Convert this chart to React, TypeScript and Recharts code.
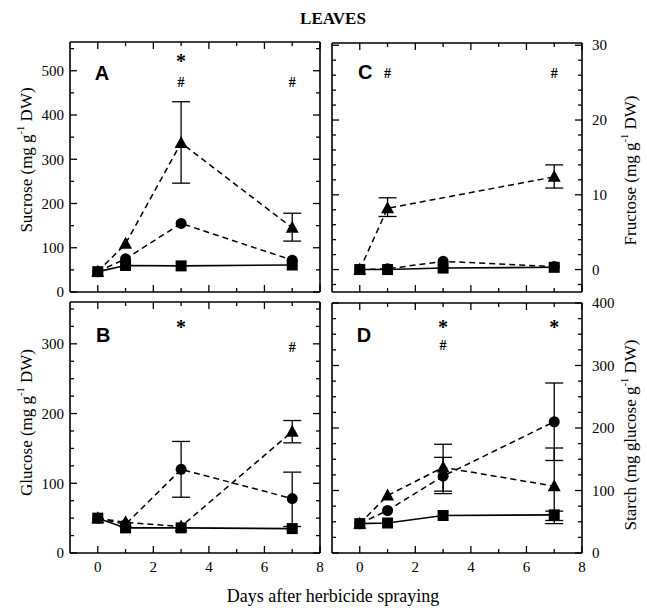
import React from "react";
import { LineChart, Line, XAxis, YAxis, ErrorBar, ReferenceDot } from "recharts";

const W = 647;
const H = 612;
const SERIF = "'Liberation Serif', 'Times New Roman', serif";
const SANS = "'Liberation Sans', Arial, sans-serif";

// days after herbicide spraying
const days = [0, 1, 3, 7];
const dayTicks = [0, 1, 2, 3, 4, 5, 6, 7, 8];

// A - sucrose (mg g-1 DW)
const sucroseSquare = [46, 60, 59, 61];
const sucroseCircle = [46, 75, 155, 72];
const sucroseTriangle = [46, 109, 337, 145];
const sucroseTriangleErr = [null, null, [91, 93], [30, 33]];

// B - glucose (mg g-1 DW)
const glucoseSquare = [50, 36, 36, 35];
const glucoseCircle = [50, 41, 120, 78];
const glucoseCircleErr = [null, null, [40, 40], [40, 38]];
const glucoseTriangle = [50, 44, 38, 174];
const glucoseTriangleErr = [null, null, null, [16, 16]];

// C - fructose (mg g-1 DW), no triangle at day 3
const fructoseSquare = [0, 0, 0.2, 0.3];
const fructoseCircle = [0, 0.1, 1.1, 0.4];
const fructoseTriangle = [0, 8.2, null, 12.4];
const fructoseTriangleErr = [null, [1.1, 1.4], null, [1.5, 1.6]];

// D - starch (mg glucose g-1 DW)
const starchSquare = [47, 48, 60, 61];
const starchSquareErr = [null, null, null, [9, 6]];
const starchCircle = [47, 68, 123, 210];
const starchCircleErr = [null, null, [28, 30], [62, 62]];
const starchTriangle = [47, 92, 137, 107];
const starchTriangleErr = [null, null, [38, 37], [60, 61]];

// significance marks: day, height in axis units, symbol
const notesA = [
  { day: 3, level: 522, text: "*" },
  { day: 3, level: 475, text: "#" },
  { day: 7, level: 475, text: "#" },
];
const notesB = [
  { day: 3, level: 325, text: "*" },
  { day: 7, level: 296, text: "#" },
];
const notesC = [
  { day: 1, level: 26.3, text: "#" },
  { day: 7, level: 26.3, text: "#" },
];
const notesD = [
  { day: 3, level: 362, text: "*" },
  { day: 3, level: 333, text: "#" },
  { day: 7, level: 362, text: "*" },
];

const range = (from: number, to: number, step: number) => {
  const out: number[] = [];
  for (let v = from; v <= to + 1e-9; v += step) out.push(Math.round(v * 100) / 100);
  return out;
};

type Err = number[] | null;
const makeRows = (sq: (number | null)[], ci: (number | null)[], tr: (number | null)[], sqErr: Err[] = [], ciErr: Err[] = [], trErr: Err[] = []) =>
  days.map((day, i) => ({
    day,
    sq: sq[i],
    ci: ci[i],
    tr: tr[i],
    sqErr: sqErr[i] ?? undefined,
    ciErr: ciErr[i] ?? undefined,
    trErr: trErr[i] ?? undefined,
  }));

const rowsA = makeRows(sucroseSquare, sucroseCircle, sucroseTriangle, [], [], sucroseTriangleErr);
const rowsB = makeRows(glucoseSquare, glucoseCircle, glucoseTriangle, [], glucoseCircleErr, glucoseTriangleErr);
const rowsC = makeRows(fructoseSquare, fructoseCircle, fructoseTriangle, [], [], fructoseTriangleErr);
const rowsD = makeRows(starchSquare, starchCircle, starchTriangle, starchSquareErr, starchCircleErr, starchTriangleErr);

const AX = 20; // size reserved for every axis
const GAP: Record<string, number> = { left: 6, right: 10, top: 4, bottom: 8 };

// inward tick marks, label only on major ticks
function InTick(props: any) {
  const { x = 0, y = 0, payload, side, major, labels } = props;
  const v = payload?.value ?? 0;
  const isMajor = Math.abs(v / major - Math.round(v / major)) < 1e-6;
  const len = isMajor ? 7 : 4;
  const txt = labels && isMajor ? String(v) : null;
  const common = { fontFamily: SERIF, fontSize: 15, fill: "#000" };
  if (side === "left") {
    const ax = x + GAP.left;
    return (
      <g>
        <line x1={ax} y1={y} x2={ax + len} y2={y} stroke="#000" strokeWidth={1.3} />
        {txt && <text x={x} y={y} dy="0.35em" textAnchor="end" {...common}>{txt}</text>}
      </g>
    );
  }
  if (side === "right") {
    const ax = x - GAP.right;
    return (
      <g>
        <line x1={ax} y1={y} x2={ax - len} y2={y} stroke="#000" strokeWidth={1.3} />
        {txt && <text x={x} y={y} dy="0.35em" textAnchor="start" {...common}>{txt}</text>}
      </g>
    );
  }
  if (side === "bottom") {
    const ay = y - GAP.bottom;
    return (
      <g>
        <line x1={x} y1={ay} x2={x} y2={ay - len} stroke="#000" strokeWidth={1.3} />
        {txt && <text x={x} y={y} dy="0.71em" textAnchor="middle" {...common}>{txt}</text>}
      </g>
    );
  }
  const ay = y + GAP.top;
  return <line x1={x} y1={ay} x2={x} y2={ay + len} stroke="#000" strokeWidth={1.3} />;
}

function YTitle(props: any) {
  const { viewBox, side, pre, shift } = props;
  const vb = viewBox ?? { x: 0, y: 0, width: 0, height: 0 };
  const cx = side === "left" ? vb.x + vb.width - 44 : vb.x + 48;
  const cy = vb.y + vb.height / 2 + shift;
  return (
    <text x={cx} y={cy} transform={`rotate(-90 ${cx} ${cy})`} textAnchor="middle" dominantBaseline="central" fontFamily={SERIF} fontSize={17} fill="#000">
      {pre}
      <tspan dy={-6} fontSize={10.5}>-1</tspan>
      <tspan dy={6}> DW)</tspan>
    </text>
  );
}

const square = (p: any) =>
  p.cy == null || p.value == null ? <g key={p.key} /> : <rect key={p.key} x={p.cx - 5.5} y={p.cy - 5.5} width={11} height={11} fill="#000" />;
const circle = (p: any) =>
  p.cy == null || p.value == null ? <g key={p.key} /> : <circle key={p.key} cx={p.cx} cy={p.cy} r={5.5} fill="#000" />;
const triangle = (p: any) =>
  p.cy == null || p.value == null ? (
    <g key={p.key} />
  ) : (
    <polygon key={p.key} points={`${p.cx},${p.cy - 7} ${p.cx - 6.5},${p.cy + 5} ${p.cx + 6.5},${p.cy + 5}`} fill="#000" />
  );

type Note = { day: number; level: number; text: string };
type PanelProps = {
  rows: any[];
  box: { left: number; top: number; right: number; bottom: number };
  yDomain: [number, number];
  yTicks: number[];
  yMajor: number;
  labelSide: "left" | "right";
  showX: boolean;
  pre: string;
  shift: number;
  letter: string;
  letterAt: [number, number];
  notes: Note[];
};

function Panel(p: PanelProps) {
  const margin = {
    left: p.box.left - AX,
    right: W - p.box.right - AX,
    top: p.box.top - AX,
    bottom: H - p.box.bottom - AX,
  };
  const axisLine = { stroke: "#000", strokeWidth: 1.6 };
  const errLine = { stroke: "#000", strokeWidth: 1.3 };
  const title = <YTitle side={p.labelSide} pre={p.pre} shift={p.shift} />;
  return (
    <div style={{ position: "absolute", left: 0, top: 0 }}>
      <LineChart width={W} height={H} data={p.rows} margin={margin}>
        <XAxis xAxisId="b" type="number" dataKey="day" domain={[-1, 8]} ticks={dayTicks} interval={0} orientation="bottom" height={AX}
          tickSize={0} tickMargin={GAP.bottom} tickLine={false} axisLine={axisLine} tick={<InTick side="bottom" major={2} labels={p.showX} />} />
        <XAxis xAxisId="t" type="number" dataKey="day" domain={[-1, 8]} ticks={dayTicks} interval={0} orientation="top" height={AX}
          tickSize={0} tickMargin={GAP.top} tickLine={false} axisLine={axisLine} tick={<InTick side="top" major={2} labels={false} />} />
        <YAxis yAxisId="l" type="number" domain={p.yDomain} ticks={p.yTicks} interval={0} orientation="left" width={AX}
          allowDataOverflow tickSize={0} tickMargin={GAP.left} tickLine={false} axisLine={axisLine}
          tick={<InTick side="left" major={p.yMajor} labels={p.labelSide === "left"} />}
          label={p.labelSide === "left" ? title : undefined} />
        <YAxis yAxisId="r" type="number" domain={p.yDomain} ticks={p.yTicks} interval={0} orientation="right" width={AX}
          allowDataOverflow tickSize={0} tickMargin={GAP.right} tickLine={false} axisLine={axisLine}
          tick={<InTick side="right" major={p.yMajor} labels={p.labelSide === "right"} />}
          label={p.labelSide === "right" ? title : undefined} />
        <Line xAxisId="b" yAxisId="l" dataKey="tr" stroke="#000" strokeWidth={1.5} strokeDasharray="6 4" dot={triangle}
          activeDot={false} connectNulls isAnimationActive={false}>
          <ErrorBar dataKey="trErr" direction="y" width={9} {...errLine} />
        </Line>
        <Line xAxisId="b" yAxisId="l" dataKey="ci" stroke="#000" strokeWidth={1.5} strokeDasharray="6 4" dot={circle}
          activeDot={false} connectNulls isAnimationActive={false}>
          <ErrorBar dataKey="ciErr" direction="y" width={9} {...errLine} />
        </Line>
        <Line xAxisId="b" yAxisId="l" dataKey="sq" stroke="#000" strokeWidth={1.6} dot={square}
          activeDot={false} connectNulls isAnimationActive={false}>
          <ErrorBar dataKey="sqErr" direction="y" width={9} {...errLine} />
        </Line>
        <ReferenceDot xAxisId="b" yAxisId="l" x={p.letterAt[0]} y={p.letterAt[1]} r={0} fill="none" stroke="none"
          label={{ value: p.letter, position: "center", fontFamily: SANS, fontWeight: 700, fontSize: 20, fill: "#000" }} />
        {p.notes.map((n, i) => (
          <ReferenceDot key={i} xAxisId="b" yAxisId="l" x={n.day} y={n.level} r={0} fill="none" stroke="none"
            label={{ value: n.text, position: "center", fontFamily: SERIF, fontWeight: 700, fontSize: n.text === "*" ? 20 : 14, fill: "#000" }} />
        ))}
      </LineChart>
    </div>
  );
}

export default function App() {
  return (
    <div style={{ position: "absolute", left: 0, top: 0, width: W, height: H, background: "#fff" }}>
      <div style={{ position: "absolute", left: 0, width: 666, top: 9, textAlign: "center", fontFamily: SERIF, fontWeight: 700, fontSize: 17 }}>
        LEAVES
      </div>
      <Panel rows={rowsA} box={{ left: 70, top: 42, right: 320, bottom: 292 }} yDomain={[0, 565]} yTicks={range(0, 550, 50)} yMajor={100}
        labelSide="left" showX={false} pre="Sucrose (mg g" shift={-7} letter="A" letterAt={[0.15, 495]} notes={notesA} />
      <Panel rows={rowsB} box={{ left: 70, top: 302, right: 320, bottom: 553 }} yDomain={[0, 360]} yTicks={range(0, 350, 25)} yMajor={100}
        labelSide="left" showX pre="Glucose (mg g" shift={-5} letter="B" letterAt={[0.2, 313]} notes={notesB} />
      <Panel rows={rowsC} box={{ left: 332, top: 43, right: 582, bottom: 292 }} yDomain={[-3, 30.3]} yTicks={range(-2, 30, 2)} yMajor={10}
        labelSide="right" showX={false} pre="Fructose (mg g" shift={3} letter="C" letterAt={[0.2, 26.4]} notes={notesC} />
      <Panel rows={rowsD} box={{ left: 332, top: 303, right: 582, bottom: 553 }} yDomain={[0, 400]} yTicks={range(0, 400, 25)} yMajor={100}
        labelSide="right" showX pre="Starch (mg glucose g" shift={7} letter="D" letterAt={[0.15, 349]} notes={notesD} />
      <div style={{ position: "absolute", left: 0, width: 666, top: 586, textAlign: "center", fontFamily: SERIF, fontSize: 18 }}>
        Days after herbicide spraying
      </div>
    </div>
  );
}
